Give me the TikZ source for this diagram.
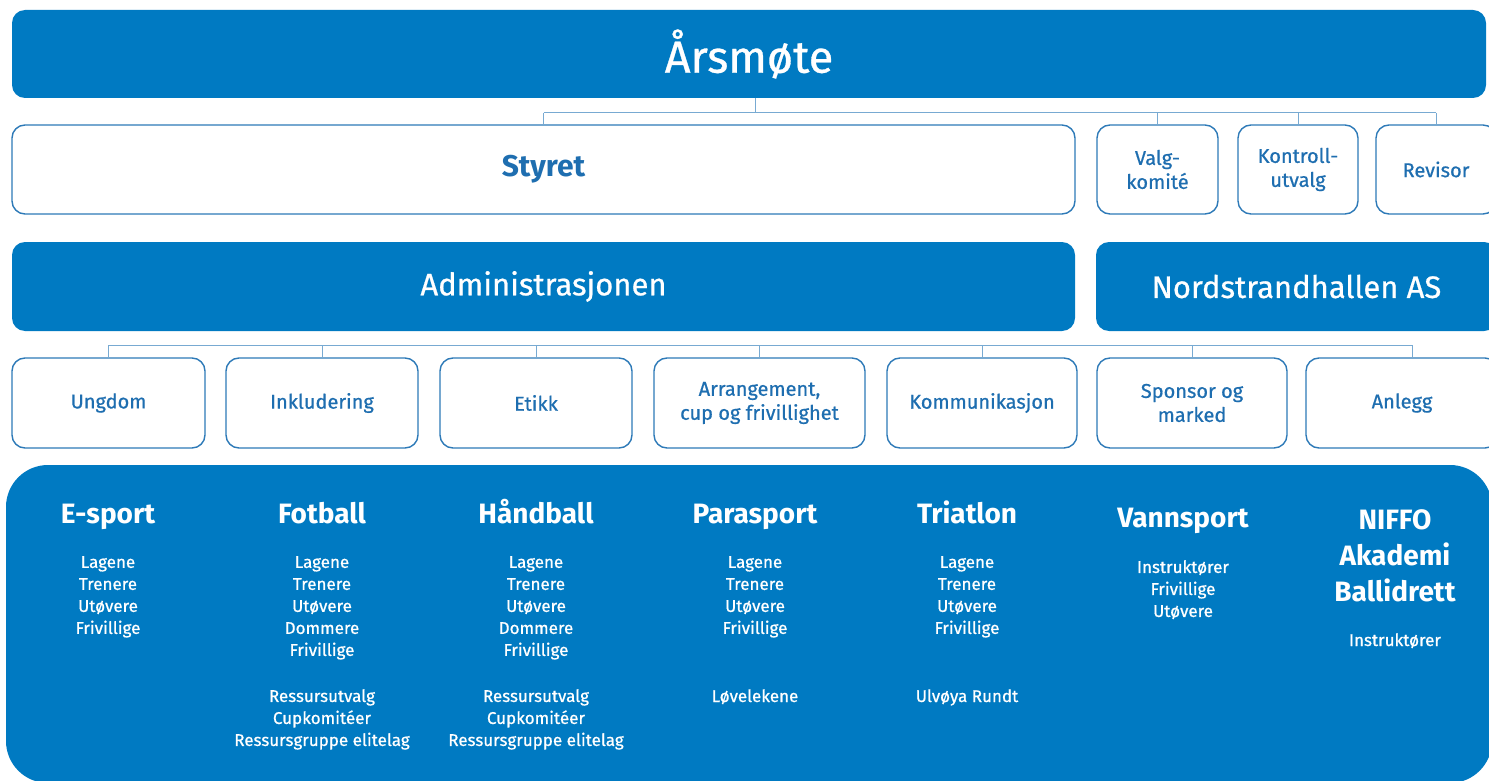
\documentclass[tikz,border=0pt]{standalone}
\usepackage{fontspec}
\setmainfont{Fira Sans}
\newfontfamily\medf{Fira Sans}[FakeBold=0.7]
\usetikzlibrary{calc}
\definecolor{mainblue}{RGB}{0,122,194}
\definecolor{boxline}{RGB}{46,122,184}
\definecolor{connline}{RGB}{120,170,210}
\definecolor{boxtext}{RGB}{30,110,176}
\newcommand\fsz[2]{\fontsize{#1}{#2}\selectfont}
\begin{document}
\begin{tikzpicture}[x=1pt,y=-1pt,
 bluebox/.style={fill=mainblue, draw=none, rounded corners=13pt, text=white, inner sep=0pt, align=center},
 whitebox/.style={fill=white, draw=boxline, line width=1.4pt, rounded corners=13pt, text=boxtext, inner sep=0pt, align=center, font=\medf\fsz{20}{24}},
 conn/.style={draw=connline, line width=1pt},
 title/.style={text=white, font=\bfseries\fsz{28}{36}, inner sep=0pt, align=center, anchor=base},
 items/.style={text=white, font=\medf\fsz{17}{22}, inner sep=0pt, align=center, anchor=north},
 item/.style={text=white, font=\medf\fsz{17}{22}, inner sep=0pt, anchor=base}]
\useasboundingbox (0,0) rectangle (1489,781);
\fill[white] (0,0) rectangle (1489,781);

% level 1
\node[bluebox, minimum width=1474pt, minimum height=88pt, font=\medf\fsz{45}{50}] (aars) at (749,54) {Årsmøte};

% level 2
\node[whitebox, minimum width=1063pt, minimum height=89pt, font=\bfseries\fsz{30}{34}] (styret) at (543.5,169.5) {Styret};
\node[whitebox, minimum width=121pt, minimum height=89pt] (valg) at (1157.5,169.5) {Valg-\\komité};
\node[whitebox, minimum width=120pt, minimum height=89pt] (kontroll) at (1298,169.5) {Kontroll-\\utvalg};
\node[whitebox, minimum width=120pt, minimum height=89pt] (revisor) at (1436,169.5) {Revisor};

% level 3
\node[bluebox, minimum width=1063pt, minimum height=89pt, font=\medf\fsz{31}{35}] (admin) at (543.5,286.5) {Administrasjonen};
\node[bluebox, minimum width=401pt, minimum height=89pt, font=\medf\fsz{31}{35}] (nord) at (1296.5,286.5) {Nordstrandhallen AS};

% level 4
\node[whitebox, minimum width=193pt, minimum height=90pt] (ungdom) at (108.5,403) {Ungdom};
\node[whitebox, minimum width=192pt, minimum height=90pt] (inkl) at (322,403) {Inkludering};
\node[whitebox, minimum width=192pt, minimum height=90pt] (etikk) at (536,403) {Etikk};
\node[whitebox, minimum width=211pt, minimum height=90pt] (arr) at (759.5,403) {Arrangement,\\cup og frivillighet};
\node[whitebox, minimum width=190pt, minimum height=90pt] (komm) at (982,403) {Kommunikasjon};
\node[whitebox, minimum width=190pt, minimum height=90pt] (sponsor) at (1192,403) {Sponsor og\\marked};
\node[whitebox, minimum width=192pt, minimum height=90pt] (anlegg) at (1402,403) {Anlegg};

% connectors level 1 -> 2
\coordinate (j1) at (755,113);
\draw[conn] (aars.south -| j1) -- (j1);
\draw[conn] (styret.north |- j1) -- (revisor.north |- j1);
\foreach \n in {styret,valg,kontroll,revisor} \draw[conn] (\n.north |- j1) -- (\n.north);

% connectors row 4
\coordinate (j2) at (1412,345);
\draw[conn] (ungdom.north |- j2) -- (j2);
\foreach \n in {ungdom,inkl,etikk,arr,komm,sponsor} \draw[conn] (\n.north |- j2) -- (\n.north);
\draw[conn] (j2) -- (j2 |- anlegg.north);

% bottom panel
\node[bluebox, rounded corners=42pt, minimum width=1486pt, minimum height=318pt] (sports) at (749,624) {};

\node[title] (t1) at (108,523) {E-sport};
\node[title] (t2) at (322,523) {Fotball};
\node[title] (t3) at (536,523) {Håndball};
\node[title] (t4) at (755,523) {Parasport};
\node[title] (t5) at (967,523) {Triatlon};
\node[title] (t6) at (1183,527) {Vannsport};
\node[title, anchor=north] (t7) at (1395,509) {NIFFO\\Akademi\\Ballidrett};

\node[items] (i1) at (108,556) {Lagene\\Trenere\\Utøvere\\Frivillige};
\node[items] (i2) at (322,556) {Lagene\\Trenere\\Utøvere\\Dommere\\Frivillige};
\node[items] (i3) at (536,556) {Lagene\\Trenere\\Utøvere\\Dommere\\Frivillige};
\node[items] (i4) at (755,556) {Lagene\\Trenere\\Utøvere\\Frivillige};
\node[items] (i5) at (967,556) {Lagene\\Trenere\\Utøvere\\Frivillige};
\node[items] (i6) at (1183,560) {Instruktører\\Frivillige\\Utøvere};
\node[item] (i7) at (1395,646) {Instruktører};

\node[items] (e2) at (322,689) {Ressursutvalg\\Cupkomitéer\\Ressursgruppe elitelag};
\node[items] (e3) at (536,689) {Ressursutvalg\\Cupkomitéer\\Ressursgruppe elitelag};
\node[item] (e4) at (755,702) {Løvelekene};
\node[item] (e5) at (967,702) {Ulvøya Rundt};
\end{tikzpicture}
\end{document}
